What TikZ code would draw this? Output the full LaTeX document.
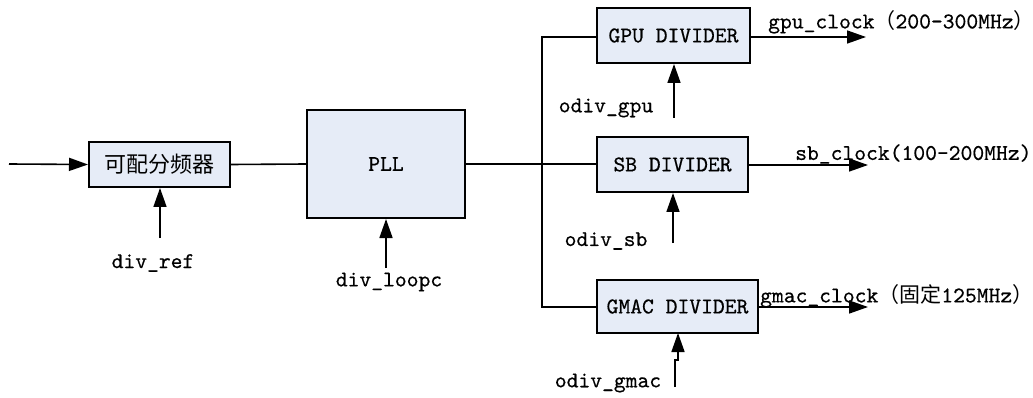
\documentclass[tikz,border=0pt]{standalone}
\usepackage{fontspec}
\newfontfamily\cjk{Noto Sans CJK SC}
\newfontfamily\mono[FakeBold=0.5]{lmmono10-regular.otf}
\usetikzlibrary{arrows.meta}
\definecolor{boxfill}{RGB}{230,236,247}
\newcommand{\lbl}{\mono\fontsize{22.5}{26}\selectfont}
\newcommand{\fw}[1]{{\cjk\fontsize{21}{26}\selectfont #1}}
\begin{document}
\begin{tikzpicture}[x=1pt,y=-1pt,
  block/.style={draw=black,line width=2pt,fill=boxfill,inner sep=0pt,
    font=\lbl},
  wire/.style={line width=1.6pt},
  sig/.style={line width=1.6pt,-{Triangle[length=19pt,width=13pt]}},
  txt/.style={inner sep=0pt,font=\lbl}]
\useasboundingbox (0,0) rectangle (1033,398);

% blocks
\node[block,minimum width=141pt,minimum height=45pt] (fdiv) at (159.5,164.5)
  {\cjk\fontsize{22}{26}\selectfont 可配分频器};
\node[block,minimum width=158pt,minimum height=108pt] (pll) at (386,164) {PLL};
\node[block,minimum width=153pt,minimum height=55pt] (gpu) at (673.5,35.5) {GPU DIVIDER};
\node[block,minimum width=151pt,minimum height=55pt] (sb) at (672.5,164.5) {SB DIVIDER};
\node[block,minimum width=161pt,minimum height=53pt] (gmac) at (677.5,306.5) {GMAC DIVIDER};

% control inputs
\node[txt] (divref) at (153,263) {div\_ref};
\node[txt] (divloop) at (389,282) {div\_loopc};
\node[txt] (odgpu) at (606,108) {odiv\_gpu};
\node[txt] (odsb) at (606,241) {odiv\_sb};
\node[txt] (odgmac) at (608,383) {odiv\_gmac};

% output labels
\node[txt,anchor=west] (lgpu) at (768,22) {gpu\_clock\fw{（}200-300MHz\fw{）}};
\node[txt,anchor=west] (lsb) at (795,154) {sb\_clock(100-200MHz)};
\node[txt,anchor=west] (lgmac) at (760,296) {gmac\_clock\fw{（固定}125MHz\fw{）}};

% junction points
\coordinate (in) at (9,164);
\coordinate (jc) at (542,164);
\coordinate (jt) at (542,37);
\coordinate (jb) at (542,307);
\coordinate (ogpu) at (866,37);
\coordinate (osb) at (868,165);
\coordinate (ogmac) at (868,307);
\coordinate (cref) at (160,238);
\coordinate (cloop) at (386,268);
\coordinate (cgpu) at (674,118);
\coordinate (csb) at (673,243);
\coordinate (cgmac) at (675,387);

% main path
\draw[sig] (in) -- (fdiv.west);
\draw[wire] (fdiv.east) -- (pll.west);
\draw[line width=2.4pt] (pll.east |- jc) -- (jc);
\draw[wire] (jc) -- (sb.west |- jc);
\draw[wire] (gpu.west |- jt) -- (jt) -- (jb) -- (gmac.west |- jb);

% outputs
\draw[sig] (gpu.east |- ogpu) -- (ogpu);
\draw[sig] (sb.east |- osb) -- (osb);
\draw[sig] (gmac.east |- ogmac) -- (ogmac);

% control arrows
\draw[sig] (cref) -- (cref |- fdiv.south);
\draw[sig] (cloop) -- (cloop |- pll.south);
\draw[sig] (cgpu) -- (cgpu |- gpu.south);
\draw[sig] (csb) -- (csb |- sb.south);
\draw[sig] (cgmac) -- (675,360) -- (678,360) -- (678,333);
\end{tikzpicture}
\end{document}
